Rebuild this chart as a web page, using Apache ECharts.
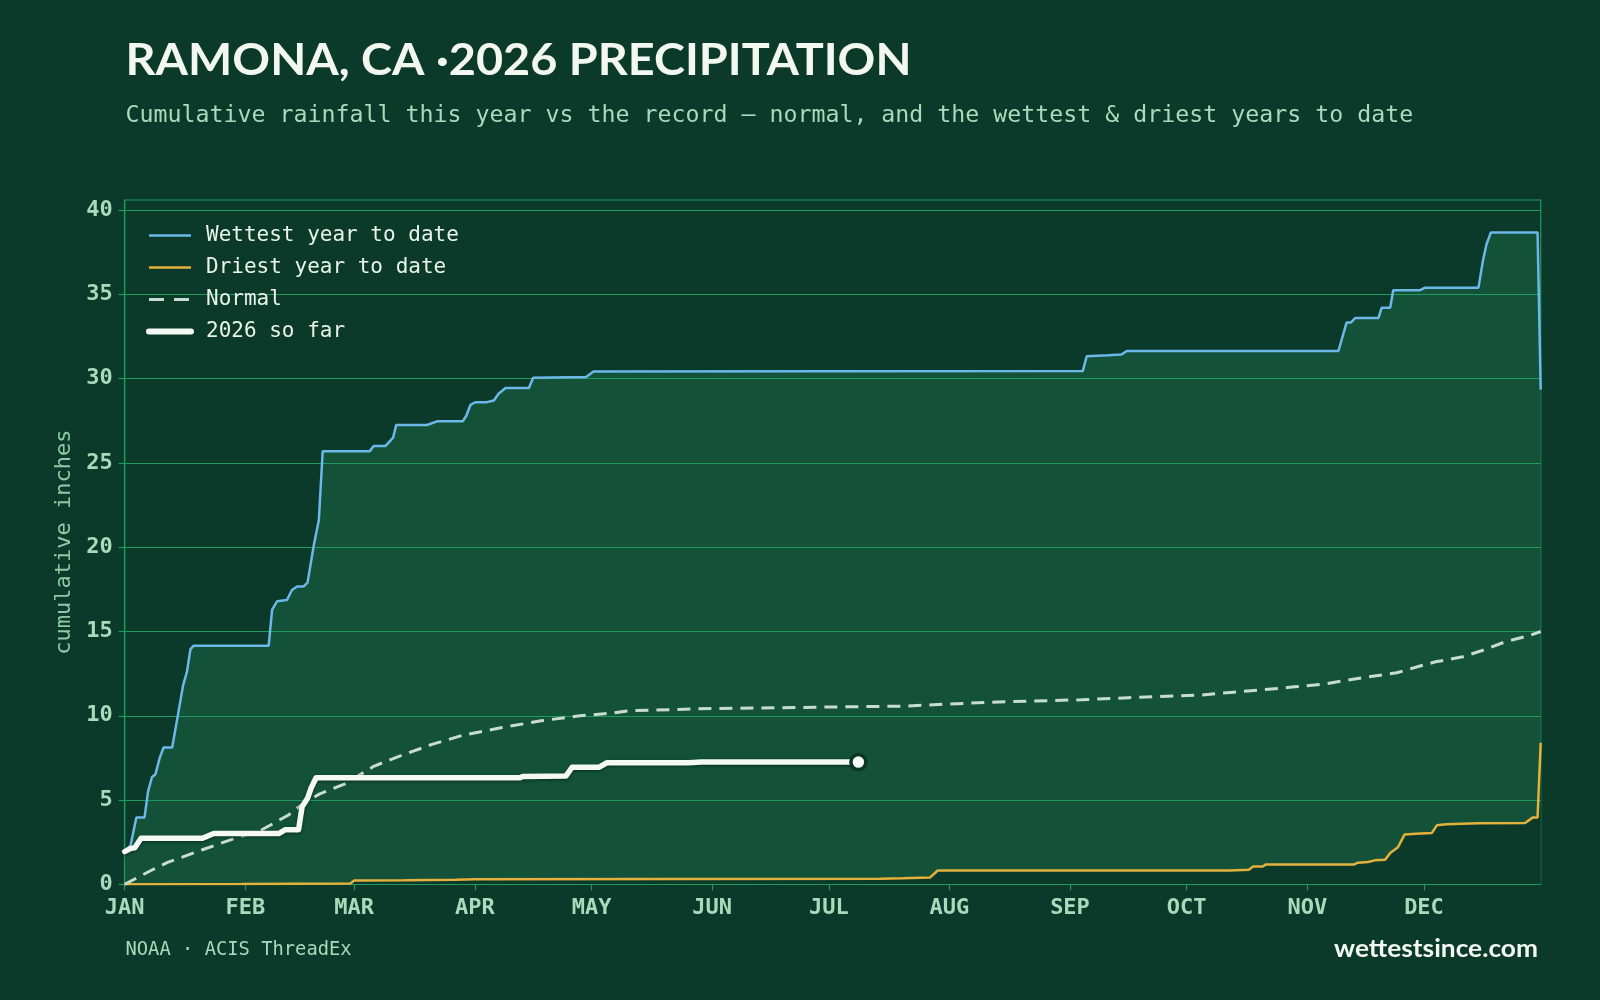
<!DOCTYPE html>
<html><head><meta charset="utf-8">
<script src="https://cdn.jsdelivr.net/npm/echarts@6/dist/echarts.min.js"></script>
<style>html,body{margin:0;padding:0;background:#0c3a2a;}#chart{width:1600px;height:1000px;}</style>
</head><body><div id="chart"></div>
<script>
// ---- data (x = day of year, 0 = Jan 1; y = cumulative inches) ----
const MONTH_LABELS = ['JAN','FEB','MAR','APR','MAY','JUN','JUL','AUG','SEP','OCT','NOV','DEC'];
const MONTH_START_DAYS = [0,31,59,90,120,151,181,212,243,273,304,334];
const Y_TICKS = [0,5,10,15,20,25,30,35,40];

const WETTEST = [[0,2.0],[1.5,2.3],[3,3.97],[5.1,3.97],[6,5.5],[7,6.35],[7.9,6.53],[9,7.5],[10,8.12],[12.2,8.12],
  [13.5,9.8],[15,11.8],[16,12.6],[16.9,13.95],[17.7,14.15],[37,14.15],[37.9,16.3],[39.2,16.8],[41.7,16.87],[43,17.46],
  [44.3,17.67],[46,17.67],[47,17.9],[48.6,20.1],[49.9,21.6],[50.9,25.7],[63,25.7],[64,26.0],[67,26.0],[69,26.5],
  [69.8,27.25],[77.7,27.25],[80.3,27.47],[86.9,27.47],[87.8,27.8],[88.9,28.45],[90.1,28.6],[93,28.6],[94.9,28.7],
  [96.1,29.1],[97.9,29.45],[103.9,29.45],[105,30.05],[118.6,30.1],[120.5,30.43],[246.3,30.46],[247.3,31.33],
  [252.8,31.39],[256.2,31.43],[257.6,31.64],[312,31.64],[314.1,33.33],[315.2,33.33],[316.3,33.6],[322.3,33.6],
  [323.1,34.2],[325.3,34.2],[326.1,35.25],[333,35.25],[334.3,35.4],[348,35.4],[349.1,36.93],[350.1,38.0],
  [351.2,38.67],[363.2,38.67],[364,29.35]];

const DRIEST = [[0,0],[30,0.02],[58,0.05],[59,0.22],[72,0.24],[85,0.27],[90,0.3],[194,0.33],[200,0.36],[207,0.4],
  [209,0.82],[284,0.82],[289,0.86],[290,1.05],[292.6,1.05],[293.3,1.17],[316,1.17],[317,1.28],[319.6,1.32],
  [321.4,1.42],[324,1.46],[325.3,1.85],[327.3,2.2],[329,2.95],[332,3.0],[336,3.04],[337.3,3.5],[339.7,3.56],
  [348,3.62],[360,3.64],[362,3.97],[363.2,3.97],[364,8.4]];

const NORMAL = [[0,0],[7,0.85],[11,1.3],[20,2.05],[28,2.7],[35,3.2],[42,4.1],[46,4.8],[50,5.35],[57,6.0],[64,7.0],
  [70,7.55],[79,8.3],[87,8.85],[97,9.3],[107,9.7],[117,10.0],[125,10.15],[130,10.3],[151,10.43],[200,10.57],
  [222,10.8],[246,10.95],[258,11.07],[270,11.17],[277,11.23],[285,11.4],[293,11.55],[300,11.7],[309,11.9],
  [314,12.1],[318,12.25],[327,12.55],[333,12.95],[337,13.2],[344,13.5],[350,13.95],[355,14.4],[361,14.75],[364,15.0]];

const RAIN_2026 = [[0,1.94],[1.6,2.13],[2.6,2.17],[4.2,2.73],[20,2.73],[22.9,3.02],[39.7,3.02],[41.3,3.24],
  [44.7,3.24],[45.6,4.6],[47,5.1],[47.9,5.7],[49.2,6.32],[101.6,6.32],[102.3,6.4],[113.4,6.42],[115,6.94],
  [121.9,6.94],[123.9,7.21],[145,7.21],[148.2,7.25],[188.6,7.25]];

// ---- styling ----
const BG = '#0c3a2a', BAND = '#135239', GRIDC = '#1f9b5f', LABEL = '#a6dbbb', NAMEC = '#8ccaa6';
const C_WET = '#6cb8e8', C_DRY = '#e3b13c', C_NORM = '#c8dccf', C_NOW = '#f4faf3';
const MONO = "'DejaVu Sans Mono', monospace";
const SANS = "Lato, 'Open Sans', sans-serif";

function fitScale(text, font, target) {
  const c = document.createElement('canvas').getContext('2d');
  c.font = font;
  return target / c.measureText(text).width;
}
const TITLE = 'RAMONA, CA \u00b72026 PRECIPITATION';
const TITLE_FONT = '700 44px ' + SANS;
const SITE = 'wettestsince.com';
const SITE_FONT = '700 24px ' + SANS;

const chart = echarts.init(document.getElementById('chart'), null, {renderer: 'canvas'});
chart.setOption({
  backgroundColor: BG,
  animation: false,
  grid: {left: 124.7, right: 59.3, top: 200, bottom: 115.7, show: true, backgroundColor: 'transparent',
         borderColor: GRIDC, borderWidth: 1.2, containLabel: false},
  legend: {
    orient: 'vertical', left: 141, top: 220, itemWidth: 42, itemHeight: 14, itemGap: 11,
    itemStyle: {opacity: 0, borderWidth: 0},
    data: [
      {name: 'Wettest year to date', lineStyle: {color: C_WET, width: 2.5}, itemStyle: {opacity: 0}},
      {name: 'Driest year to date', lineStyle: {color: C_DRY, width: 2.5}, itemStyle: {opacity: 0}},
      {name: 'Normal', lineStyle: {color: C_NORM, width: 3, type: [15, 10]}, itemStyle: {opacity: 0}},
      {name: '2026 so far', lineStyle: {color: C_NOW, width: 6, cap: 'round'}, itemStyle: {opacity: 0}}
    ],
    textStyle: {color: '#e8f3ea', fontFamily: MONO, fontSize: 21, padding: [0, 0, 0, 10]},
    inactiveColor: '#555'
  },
  xAxis: {
    type: 'value', min: 0, max: 364, z: 2,
    axisLine: {show: true, lineStyle: {color: GRIDC, width: 1.2}},
    axisTick: {show: true, customValues: MONTH_START_DAYS, length: 6, lineStyle: {color: GRIDC, width: 1.2}},
    axisLabel: {customValues: MONTH_START_DAYS, margin: 13, color: LABEL, fontFamily: MONO, fontWeight: 'bold', fontSize: 22,
      formatter: v => MONTH_LABELS[MONTH_START_DAYS.indexOf(Math.round(v))] || ''},
    splitLine: {show: false}
  },
  yAxis: {
    type: 'value', min: 0, max: 40.6, interval: 5, z: 2,
    name: 'cumulative inches', nameLocation: 'middle', nameGap: 42,
    nameTextStyle: {color: NAMEC, fontFamily: MONO, fontSize: 22},
    axisLine: {show: true, lineStyle: {color: GRIDC, width: 1.2}},
    axisTick: {show: true, customValues: Y_TICKS, length: 6, lineStyle: {color: GRIDC, width: 1.2}},
    axisLabel: {customValues: Y_TICKS, margin: 12, color: LABEL, fontFamily: MONO, fontWeight: 'bold', fontSize: 22},
    splitLine: {show: true, lineStyle: {color: GRIDC, width: 1.2}}
  },
  series: [
    {name: 'wetFill', type: 'line', data: WETTEST, symbol: 'none', z: 1, silent: true,
     lineStyle: {width: 0, opacity: 0}, areaStyle: {color: BAND, opacity: 1}},
    {name: 'dryFill', type: 'line', data: DRIEST, symbol: 'none', z: 1, silent: true,
     lineStyle: {width: 0, opacity: 0}, areaStyle: {color: BG, opacity: 1}},
    {name: 'Wettest year to date', type: 'line', data: WETTEST, symbol: 'none', z: 3,
     lineStyle: {color: C_WET, width: 2.5}, itemStyle: {color: C_WET}},
    {name: 'Driest year to date', type: 'line', data: DRIEST, symbol: 'none', z: 3,
     lineStyle: {color: C_DRY, width: 2.5}, itemStyle: {color: C_DRY}},
    {name: 'Normal', type: 'line', data: NORMAL, symbol: 'none', z: 3,
     lineStyle: {color: C_NORM, width: 3, type: [13, 8]}, itemStyle: {color: C_NORM}},
    {name: '2026 so far', type: 'line', data: RAIN_2026, symbol: 'none', z: 4,
     lineStyle: {color: C_NOW, width: 5.5, cap: 'round', join: 'round',
                 shadowColor: 'rgba(5,35,24,0.8)', shadowBlur: 3, shadowOffsetY: 1},
     itemStyle: {color: C_NOW}},
    {name: 'end', type: 'scatter', data: [RAIN_2026[RAIN_2026.length - 1]], z: 5, symbolSize: 15,
     itemStyle: {color: '#f7fbf6', opacity: 1, borderColor: '#0b3526', borderWidth: 3.5}}
  ],
  graphic: [
    {type: 'text', x: 125.5, y: 61, scaleX: fitScale(TITLE, TITLE_FONT, 786),
     style: {text: TITLE, font: TITLE_FONT, fill: '#f2f7ef', textAlign: 'left', textVerticalAlign: 'middle'}},
    {type: 'text', x: 125.5, y: 116,
     style: {text: 'Cumulative rainfall this year vs the record \u2014 normal, and the wettest & driest years to date',
             font: '23.25px ' + MONO, fill: LABEL, textAlign: 'left', textVerticalAlign: 'middle'}},
    {type: 'text', x: 125.5, y: 950,
     style: {text: 'NOAA \u00b7 ACIS ThreadEx', font: '18.8px ' + MONO, fill: LABEL, textAlign: 'left', textVerticalAlign: 'middle'}},
    {type: 'text', x: 1538, y: 949, scaleX: fitScale(SITE, SITE_FONT, 204),
     style: {text: SITE, font: SITE_FONT, fill: '#f4f8f2', textAlign: 'right', textVerticalAlign: 'middle'}}
  ]
});
</script></body></html>
